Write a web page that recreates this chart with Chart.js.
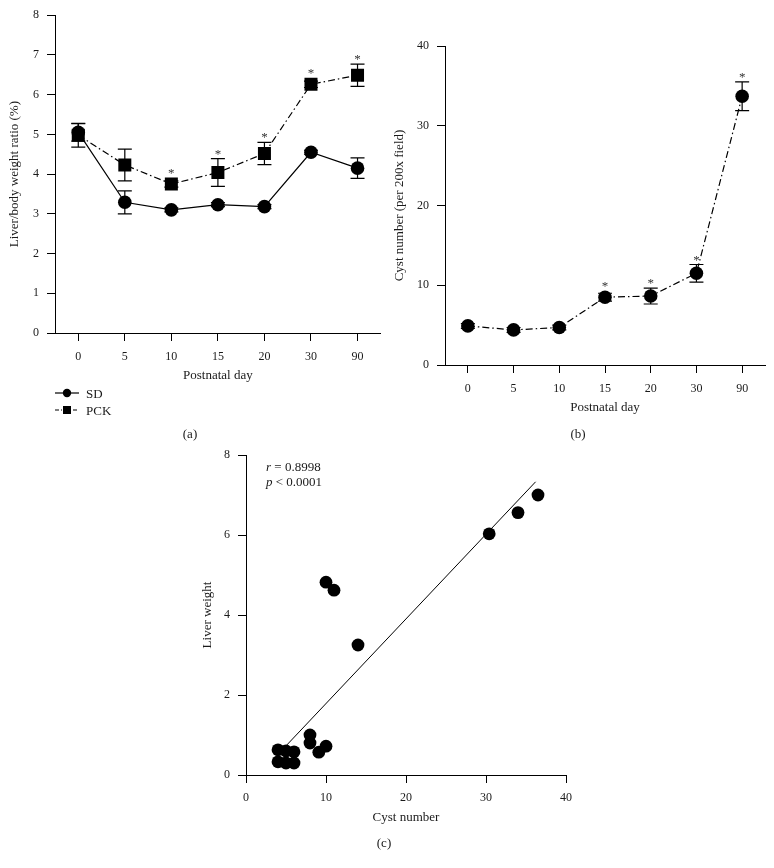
<!DOCTYPE html>
<html>
<head>
<meta charset="utf-8">
<script src="https://cdn.jsdelivr.net/npm/chart.js@4.4.0/dist/chart.umd.min.js"></script>
<style>
  html, body { margin: 0; padding: 0; background: #fff; }
  body { width: 774px; height: 868px; position: relative; overflow: hidden;
         font-family: "Liberation Serif", "DejaVu Serif", serif; color: #1a1a1a; }
  canvas { position: absolute; }
  .lbl { position: absolute; font-size: 13px; line-height: 13px; white-space: nowrap; }
  .ctr { transform: translate(-50%, -50%); }
  .mid { transform: translateY(-50%); }
  svg { position: absolute; }
</style>
</head>
<body>
<canvas id="chartA" width="390" height="420" style="left:0;top:0;width:390px;height:420px"></canvas>
<canvas id="chartB" width="384" height="420" style="left:390px;top:0;width:384px;height:420px"></canvas>
<canvas id="chartC" width="410" height="448" style="left:190px;top:420px;width:410px;height:448px"></canvas>

<!-- legend for panel (a) -->
<svg width="26" height="14" style="left:55px;top:386px">
  <line x1="0" y1="7" x2="24" y2="7" stroke="#000" stroke-width="1.2"/>
  <circle cx="12" cy="7" r="4.2" fill="#000"/>
</svg>
<div class="lbl mid" style="left:86px;top:393px">SD</div>
<svg width="26" height="14" style="left:55px;top:403px">
  <line x1="0" y1="7" x2="24" y2="7" stroke="#000" stroke-width="1.2" stroke-dasharray="4,2,1,2"/>
  <rect x="8" y="3" width="8" height="8" fill="#000"/>
</svg>
<div class="lbl mid" style="left:86px;top:410px">PCK</div>

<div class="lbl ctr" style="left:190px;top:433px">(a)</div>
<div class="lbl ctr" style="left:578px;top:433px">(b)</div>
<div class="lbl ctr" style="left:384px;top:842px">(c)</div>

<div class="lbl mid" style="left:266px;top:466px"><i>r</i> = 0.8998</div>
<div class="lbl mid" style="left:266px;top:481px"><i>p</i> &lt; 0.0001</div>

<script>
// panel (a) and (b): postnatal days
const days = ['0', '5', '10', '15', '20', '30', '90'];

// (a) liver/body weight ratio (%)
const sdRatio = [5.05, 3.29, 3.10, 3.23, 3.18, 4.55, 4.15];
const sdRatioErr = [0.22, 0.29, 0.05, 0.05, 0.05, 0.05, 0.26];
const pckRatio = [4.98, 4.23, 3.75, 4.04, 4.52, 6.26, 6.49];
const pckRatioErr = [0.30, 0.40, 0.08, 0.35, 0.28, 0.08, 0.28];
const pckRatioSig = [false, false, true, true, true, true, true];

// (b) cyst number per 200x field
const cystCount = [4.9, 4.4, 4.7, 8.5, 8.65, 11.5, 33.7];
const cystErr = [0.3, 0.3, 0.3, 0.5, 1.0, 1.1, 1.8];
const cystSig = [false, false, false, true, true, true, true];

// (c) correlation
const scatterCyst = [36.5, 34, 30.4, 10, 11, 14, 8, 8, 10, 9.1, 4, 4, 5, 5, 6, 6];
const scatterLiver = [7.0, 6.56, 6.03, 4.82, 4.62, 3.25, 1.0, 0.8, 0.72, 0.57, 0.63, 0.33, 0.6, 0.3, 0.58, 0.3];
const fitCyst = [5.1, 36.2];
const fitLiver = [0.75, 7.33];

const ink = '#1a1a1a';
const tickFont = { family: '"Liberation Serif", serif', size: 12 };
const titleFont = { family: '"Liberation Serif", serif', size: 13 };

// error bars under the markers, asterisks above them
const errorBars = {
  id: 'errorBars',
  beforeDatasetsDraw(chart) {
    const ctx = chart.ctx;
    const y = chart.scales.y;
    chart.data.datasets.forEach((ds, i) => {
      if (!ds.errors) return;
      const meta = chart.getDatasetMeta(i);
      meta.data.forEach((pt, j) => {
        const top = y.getPixelForValue(ds.data[j] + ds.errors[j]);
        const bot = y.getPixelForValue(ds.data[j] - ds.errors[j]);
        ctx.save();
        ctx.strokeStyle = '#000';
        ctx.lineWidth = 1.2;
        ctx.beginPath();
        ctx.moveTo(pt.x, top); ctx.lineTo(pt.x, bot);
        ctx.moveTo(pt.x - 7, top); ctx.lineTo(pt.x + 7, top);
        ctx.moveTo(pt.x - 7, bot); ctx.lineTo(pt.x + 7, bot);
        ctx.stroke();
        ctx.restore();
      });
    });
  },
  afterDatasetsDraw(chart) {
    const ctx = chart.ctx;
    const y = chart.scales.y;
    chart.data.datasets.forEach((ds, i) => {
      if (!ds.stars) return;
      const meta = chart.getDatasetMeta(i);
      meta.data.forEach((pt, j) => {
        if (!ds.stars[j]) return;
        const top = Math.min(y.getPixelForValue(ds.data[j] + ds.errors[j]), pt.y - 6.5);
        ctx.save();
        ctx.fillStyle = '#333';
        ctx.font = '13px "Liberation Serif", serif';
        ctx.textAlign = 'center';
        ctx.textBaseline = 'alphabetic';
        ctx.fillText('*', pt.x, top - 1);
        ctx.restore();
      });
    });
  }
};

function axisY(min, max, step, title, titlePad, width) {
  return {
    min: min, max: max,
    ticks: { stepSize: step, color: ink, font: tickFont, padding: 8 },
    grid: { drawOnChartArea: false, drawTicks: true, tickLength: 8, color: '#000', lineWidth: 1 },
    border: { display: true, color: '#000', width: 1 },
    title: { display: true, text: title, color: ink, font: titleFont, padding: { top: titlePad, bottom: 0 } },
    afterFit: s => { s.width = width; }
  };
}

function axisX(title, height) {
  return {
    type: 'category',
    offset: true,
    ticks: { color: ink, font: tickFont, padding: 9, autoSkip: false, maxRotation: 0 },
    grid: { offset: false, drawOnChartArea: false, drawTicks: true, tickLength: 8, color: '#000', lineWidth: 1 },
    border: { display: true, color: '#000', width: 1 },
    title: { display: true, text: title, color: ink, font: titleFont, padding: { top: 0, bottom: 4 } },
    afterFit: s => { s.height = height; }
  };
}

const baseOpts = {
  responsive: false,
  animation: false,
  plugins: { legend: { display: false }, tooltip: { enabled: false } }
};

new Chart(document.getElementById('chartA'), {
  type: 'line',
  data: {
    labels: days,
    datasets: [{
      label: 'SD',
      data: sdRatio,
      errors: sdRatioErr,
      borderColor: '#000',
      borderWidth: 1.2,
      pointStyle: 'circle',
      pointRadius: 6.8,
      pointBackgroundColor: '#000',
      pointBorderColor: '#000',
      pointBorderWidth: 0,
      tension: 0
    }, {
      label: 'PCK',
      data: pckRatio,
      errors: pckRatioErr,
      stars: pckRatioSig,
      borderColor: '#000',
      borderWidth: 1.2,
      borderDash: [7, 3, 1.5, 3],
      pointStyle: 'rect',
      pointRadius: 9.2,
      pointBackgroundColor: '#000',
      pointBorderColor: '#000',
      pointBorderWidth: 0,
      tension: 0
    }]
  },
  options: Object.assign({}, baseOpts, {
    layout: { padding: { left: 0, top: 14, right: 5, bottom: 33 } },
    scales: {
      x: axisX('Postnatal day', 54),
      y: axisY(0, 8, 1, 'Liver/body weight ratio (%)', 7, 55)
    }
  }),
  plugins: [errorBars]
});

new Chart(document.getElementById('chartB'), {
  type: 'line',
  data: {
    labels: days,
    datasets: [{
      label: 'PCK',
      data: cystCount,
      errors: cystErr,
      stars: cystSig,
      borderColor: '#000',
      borderWidth: 1.2,
      borderDash: [7, 3, 1.5, 3],
      pointStyle: 'circle',
      pointRadius: 6.8,
      pointBackgroundColor: '#000',
      pointBorderColor: '#000',
      pointBorderWidth: 0,
      tension: 0
    }]
  },
  options: Object.assign({}, baseOpts, {
    layout: { padding: { left: 0, top: 46, right: 9, bottom: 1 } },
    scales: {
      x: axisX('Postnatal day', 54),
      y: axisY(0, 40, 10, 'Cyst number (per 200x field)', 2, 55)
    }
  }),
  plugins: [errorBars]
});

const scatterPts = scatterCyst.map((c, i) => ({ x: c, y: scatterLiver[i] }));
const fitPts = fitCyst.map((c, i) => ({ x: c, y: fitLiver[i] }));

const xC = {
  type: 'linear',
  min: 0, max: 40,
  ticks: { stepSize: 10, color: ink, font: tickFont, padding: 8 },
  grid: { drawOnChartArea: false, drawTicks: true, tickLength: 8, color: '#000', lineWidth: 1 },
  border: { display: true, color: '#000', width: 1 },
  title: { display: true, text: 'Cyst number', color: ink, font: titleFont, padding: { top: 0, bottom: 4 } },
  afterFit: s => { s.height = 54; }
};

new Chart(document.getElementById('chartC'), {
  type: 'scatter',
  data: {
    datasets: [{
      label: 'Liver weight',
      data: scatterPts,
      pointStyle: 'circle',
      pointRadius: 6.4,
      pointBackgroundColor: '#000',
      pointBorderColor: '#000',
      pointBorderWidth: 0
    }, {
      type: 'line',
      label: 'Fit',
      data: fitPts,
      borderColor: '#000',
      borderWidth: 1,
      pointRadius: 0,
      showLine: true,
      tension: 0
    }]
  },
  options: Object.assign({}, baseOpts, {
    layout: { padding: { left: 0, top: 35, right: 34, bottom: 39 } },
    scales: {
      x: xC,
      y: axisY(0, 8, 2, 'Liver weight', 10, 56)
    }
  })
});
</script>
</body>
</html>
